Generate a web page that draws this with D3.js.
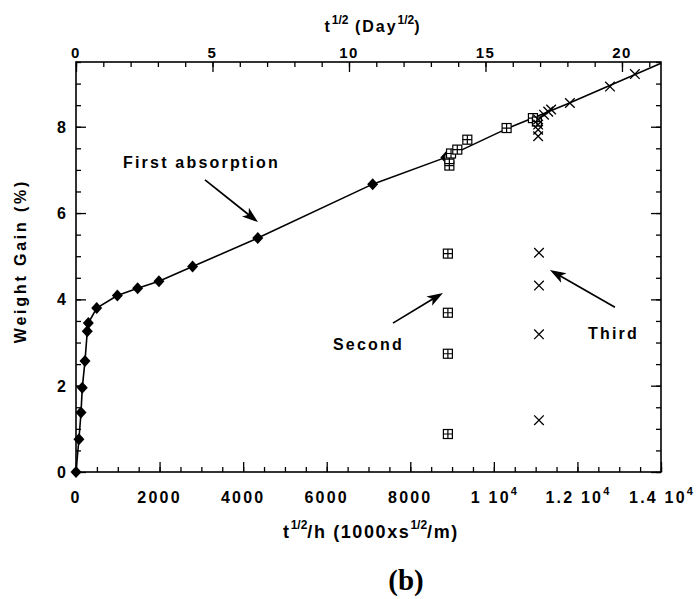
<!DOCTYPE html>
<html>
<head>
<meta charset="utf-8">
<script src="https://cdn.jsdelivr.net/npm/d3@7"></script>
<style>
  body { margin: 0; background: #fff; }
  svg text { font-family: "Liberation Sans", Arial, sans-serif; font-weight: bold; fill: #000; }
</style>
</head>
<body>
<svg id="chart" width="696" height="599"></svg>
<script>
// first absorption (filled diamonds, joined by the line)
var firstX = [0, 70, 120, 150, 215, 270, 295, 495, 990, 1475, 1985, 2790, 4350, 7100, 8850];
var firstY = [0, 0.76, 1.38, 1.95, 2.57, 3.26, 3.45, 3.80, 4.09, 4.26, 4.42, 4.76, 5.42, 6.67, 7.29];
// the line carries on past the last diamond
var fitX = [8850, 10300, 11740, 14000];
var fitY = [7.29, 7.95, 8.52, 9.47];
// second absorption (boxed crosses)
var secondX = [8935, 8935, 8975, 9125, 9365, 10305, 10935, 11030, 8900, 8900, 8900, 8900];
var secondY = [7.10, 7.25, 7.38, 7.47, 7.70, 7.97, 8.20, 8.12, 5.06, 3.69, 2.74, 0.88];
// third absorption (x marks)
var thirdX = [11060, 11060, 11060, 11060, 11200, 11300, 11370, 11820, 12780, 13375, 11080, 11080, 11080, 11080];
var thirdY = [7.78, 7.93, 8.05, 8.17, 8.28, 8.35, 8.40, 8.55, 8.93, 9.22, 5.08, 4.32, 3.19, 1.20];

// tick labels
var xTicks = [0, 2000, 4000, 6000, 8000, 10000, 12000, 14000];
var xTickLabels = [["0"], ["2000"], ["4000"], ["6000"], ["8000"], ["1 10", "4"], ["1.2 10", "4"], ["1.4 10", "4"]];
var yTicks = [0, 2, 4, 6, 8];
var yTickLabels = ["0", "2", "4", "6", "8"];
var topTicks = [0, 5, 10, 15, 20];
var topTickLabels = ["0", "5", "10", "15", "20"];

// annotations in data units: text anchor, arrow tail, arrow head
var noteText = ["First absorption", "Second", "Third"];
var noteAt = [[1125, 7.05], [6150, 2.83], [12252, 3.08]];
var arrowFrom = [[3087, 6.77], [7585, 3.45], [12898, 3.82]];
var arrowTo = [[4355, 5.79], [8782, 4.15], [11342, 4.68]];

var dayFactor = 653.3; // x units per Day^1/2

var svg = d3.select("#chart");
var plotL = 76, plotR = 661, plotT = 62, plotB = 472;

var x = d3.scaleLinear().domain([0, 14000]).range([plotL, plotR]);
var y = d3.scaleLinear().domain([0, 9.5]).range([plotB, plotT]);
var xTop = d3.scaleLinear().domain([0, 14000 / dayFactor]).range([plotL, plotR]);

//////////// AXES ////////////

function ticksOnly(axis, values, size) {
    return axis.tickValues(values).tickSize(size).tickFormat("");
}

var minorX = d3.range(0, 14001, 500);
var minorY = d3.range(0, 9.51, 0.5);
var minorTop = d3.range(0, 21.5, 1);

var axes = svg.append("g").attr("class", "axes");
axes.append("g").attr("transform", "translate(0," + plotB + ")")
    .call(ticksOnly(d3.axisBottom(x), minorX, -5));
axes.append("g").attr("transform", "translate(0," + plotB + ")")
    .call(ticksOnly(d3.axisBottom(x), xTicks, -10));
axes.append("g").attr("transform", "translate(0," + plotT + ")")
    .call(ticksOnly(d3.axisTop(xTop), minorTop, -5));
axes.append("g").attr("transform", "translate(0," + plotT + ")")
    .call(ticksOnly(d3.axisTop(xTop), topTicks, -10));
axes.append("g").attr("transform", "translate(" + plotL + ",0)")
    .call(ticksOnly(d3.axisLeft(y), minorY, -5));
axes.append("g").attr("transform", "translate(" + plotL + ",0)")
    .call(ticksOnly(d3.axisLeft(y), yTicks, -10));
axes.append("g").attr("transform", "translate(" + plotR + ",0)")
    .call(ticksOnly(d3.axisRight(y), minorY, -5));
axes.append("g").attr("transform", "translate(" + plotR + ",0)")
    .call(ticksOnly(d3.axisRight(y), yTicks, -10));

axes.selectAll(".domain").remove();
axes.selectAll(".tick line").attr("stroke", "#000").attr("stroke-width", 1.3);

svg.append("rect")
    .attr("x", plotL).attr("y", plotT)
    .attr("width", plotR - plotL).attr("height", plotB - plotT)
    .attr("fill", "none").attr("stroke", "#000").attr("stroke-width", 1.6);

// bottom tick labels (with the 10^4 superscripts)
var xl = svg.append("g").selectAll("text")
    .data(xTicks).enter().append("text")
    .attr("x", function(d) { return x(d); })
    .attr("y", plotB + 31)
    .attr("text-anchor", "middle")
    .attr("font-size", 16)
    .attr("letter-spacing", 2.2);
xl.append("tspan").text(function(d, i) { return xTickLabels[i][0]; });
xl.filter(function(d, i) { return xTickLabels[i].length > 1; })
    .append("tspan").attr("dy", -8).attr("font-size", 11).attr("letter-spacing", 0)
    .text(function(d) { return xTickLabels[xTicks.indexOf(d)][1]; });

svg.append("g").selectAll("text")
    .data(yTicks).enter().append("text")
    .attr("x", plotL - 10)
    .attr("y", function(d) { return y(d) + 6; })
    .attr("text-anchor", "end")
    .attr("font-size", 16)
    .text(function(d, i) { return yTickLabels[i]; });

svg.append("g").selectAll("text")
    .data(topTicks).enter().append("text")
    .attr("x", function(d) { return xTop(d); })
    .attr("y", plotT - 4)
    .attr("text-anchor", "middle")
    .attr("font-size", 15)
    .attr("letter-spacing", 1.5)
    .text(function(d, i) { return topTickLabels[i]; });

//////////// TITLES ////////////

var tt = svg.append("text")
    .attr("x", 373).attr("y", 32)
    .attr("text-anchor", "middle").attr("font-size", 16).attr("letter-spacing", 2);
tt.append("tspan").text("t");
tt.append("tspan").attr("dy", -8).attr("font-size", 12).attr("letter-spacing", 0).text("1/2");
tt.append("tspan").attr("dy", 8).text(" (Day");
tt.append("tspan").attr("dy", -8).attr("font-size", 12).attr("letter-spacing", 0).text("1/2");
tt.append("tspan").attr("dy", 8).text(")");

var bt = svg.append("text")
    .attr("x", 371).attr("y", 538)
    .attr("text-anchor", "middle").attr("font-size", 18).attr("letter-spacing", 1.6);
bt.append("tspan").text("t");
bt.append("tspan").attr("dy", -9).attr("font-size", 12).attr("letter-spacing", 0).text("1/2");
bt.append("tspan").attr("dy", 9).text("/h (1000xs");
bt.append("tspan").attr("dy", -9).attr("font-size", 12).attr("letter-spacing", 0).text("1/2");
bt.append("tspan").attr("dy", 9).text("/m)");

svg.append("text")
    .attr("transform", "translate(26,261) rotate(-90)")
    .attr("text-anchor", "middle").attr("font-size", 16).attr("letter-spacing", 2.8)
    .text("Weight Gain (%)");

svg.append("text")
    .attr("x", 406).attr("y", 590)
    .attr("text-anchor", "middle")
    .style("font-family", "'Liberation Serif', 'Times New Roman', serif")
    .attr("font-size", 29)
    .text("(b)");

//////////// DATA ////////////

var lineX = firstX.concat(fitX.slice(1));
var lineY = firstY.concat(fitY.slice(1));
var line = d3.line()
    .x(function(d) { return x(d[0]); })
    .y(function(d) { return y(d[1]); });

svg.append("path")
    .datum(d3.zip(lineX, lineY))
    .attr("d", line)
    .attr("fill", "none").attr("stroke", "#000").attr("stroke-width", 1.6);

svg.append("g").selectAll("path")
    .data(d3.zip(firstX, firstY)).enter().append("path")
    .attr("transform", function(d) { return "translate(" + x(d[0]) + "," + y(d[1]) + ")"; })
    .attr("d", "M0,-6L5.5,0L0,6L-5.5,0Z")
    .attr("fill", "#000");

var boxes = svg.append("g").selectAll("g")
    .data(d3.zip(secondX, secondY)).enter().append("g")
    .attr("transform", function(d) { return "translate(" + x(d[0]) + "," + y(d[1]) + ")"; });
boxes.append("rect")
    .attr("x", -4.5).attr("y", -4.5).attr("width", 9).attr("height", 9)
    .attr("fill", "#fff").attr("stroke", "#000").attr("stroke-width", 1.2);
boxes.append("path")
    .attr("d", "M0,-4.5V4.5M-4.5,0H4.5")
    .attr("stroke", "#000").attr("stroke-width", 1.2);

svg.append("g").selectAll("path")
    .data(d3.zip(thirdX, thirdY)).enter().append("path")
    .attr("transform", function(d) { return "translate(" + x(d[0]) + "," + y(d[1]) + ")"; })
    .attr("d", "M-4.8,-4.8L4.8,4.8M-4.8,4.8L4.8,-4.8")
    .attr("fill", "none").attr("stroke", "#000").attr("stroke-width", 1.3);

//////////// NOTES ////////////

svg.append("g").selectAll("text")
    .data(noteText).enter().append("text")
    .attr("x", function(d, i) { return x(noteAt[i][0]); })
    .attr("y", function(d, i) { return y(noteAt[i][1]); })
    .attr("font-size", 16)
    .attr("letter-spacing", 2.2)
    .text(function(d) { return d; });

noteText.forEach(function(d, i) {
    var x1 = x(arrowFrom[i][0]), y1 = y(arrowFrom[i][1]);
    var x2 = x(arrowTo[i][0]), y2 = y(arrowTo[i][1]);
    var a = Math.atan2(y2 - y1, x2 - x1);
    var len = 16, half = 5.5;
    var bx = x2 - len * Math.cos(a), by = y2 - len * Math.sin(a);
    svg.append("line")
        .attr("x1", x1).attr("y1", y1)
        .attr("x2", x2 - 11 * Math.cos(a)).attr("y2", y2 - 11 * Math.sin(a))
        .attr("stroke", "#000").attr("stroke-width", 1.7);
    svg.append("path")
        .attr("d", "M" + x2 + "," + y2 +
            "L" + (bx + half * Math.sin(a)) + "," + (by - half * Math.cos(a)) +
            "L" + (x2 - 12 * Math.cos(a)) + "," + (y2 - 12 * Math.sin(a)) +
            "L" + (bx - half * Math.sin(a)) + "," + (by + half * Math.cos(a)) + "Z")
        .attr("fill", "#000");
});
</script>
</body>
</html>
